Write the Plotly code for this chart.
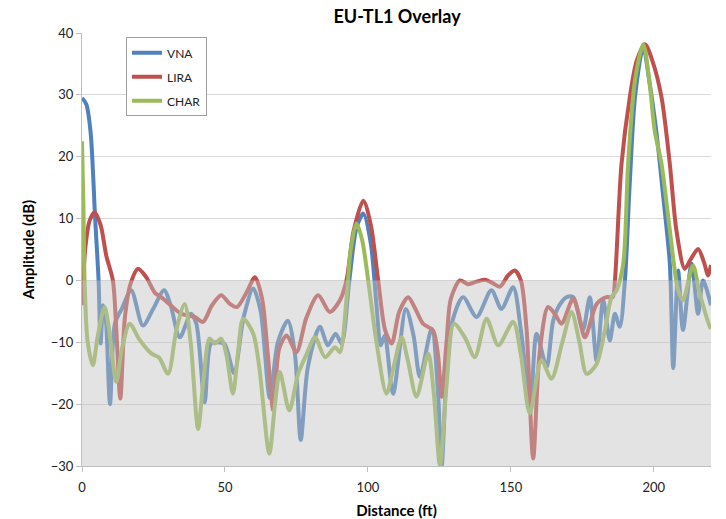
import plotly.graph_objects as go

# VNA trace (distance in ft, amplitude in dB)
vna_x = [0, 1.5, 3, 4.6, 5.8, 6.5, 7.4, 8.3, 9.8, 11.5, 14, 17.2, 21.3, 25, 28.7, 31, 34.2, 38.1, 40,
         42.9, 45.1, 47.5, 49.9, 53.2, 56.5, 59.9, 62.5, 65.7, 68.5, 72, 74.5, 76.5, 79, 83.2, 86,
         88.7, 90.8, 93.5, 96, 98.4, 101, 103, 104.5, 105.9, 108.8, 113.3, 116, 118.2, 122.3, 124.5,
         125.8, 127.5, 129.6, 133.3, 138, 143.2, 146.7, 150.8, 153.5, 156.8, 159, 162.5, 164.8, 167,
         169.5, 171.8, 175.2, 177.6, 180, 182.3, 184.6, 186.4, 188.1, 189.9, 191.5, 193.5, 196.3,
         198.5, 200.9, 203.3, 205.6, 206.8, 208.5, 210.2, 213.2, 215.5, 217.2, 220]
vna_y = [29.5, 28.5, 24, 10, 0, -10.2, -4, -6, -20, -7, -4.5, -1.6, -7.3, -4.5, -1.6, -4, -9.2, -5.4, -7,
         -19.7, -10.2, -10, -10.3, -15, -6, -1.3, -5, -19, -10, -6.5, -12, -25.8, -14, -7.5, -10.5,
         -8.6, -10.2, 0, 8.5, 10.8, 6, -4, -10.5, -8.9, -18.3, -4.6, -9, -15.6, -7.8, -18,
         -30, -15, -6.5, -2.7, -5.9, -1.6, -4.6, -1.1, -8, -20.5, -8.6, -14, -6.5, -4,
         -2.7, -2.7, -8, -2.7, -13, -3.2, -9.7, -5.4, -7.5, 0, 15, 30, 37.7,
         32, 24, 13.5, 2.7, -14.2, 1.6, -8, 2.7, -5.4, 0, -4]

# LIRA trace
lira_x = [0, 1.2, 2.7, 4.4, 6.5, 8.5, 10.8, 12, 13.4, 15, 17, 19.6, 22.5, 25.5, 27.7, 31, 34.7, 39.4,
          42.3, 45.5, 48.7, 51.7, 54.2, 57.5, 60.5, 63, 65, 66.9, 69, 71.6, 75, 78.5, 82.6, 86.7,
          90.2, 92.5, 95, 98.4, 101, 103.6, 106, 108.3, 111, 114.1, 116.5, 119.3, 122.8, 124.5,
          125.8, 127.5, 129, 132.2, 135, 138, 141, 143.5, 146.2, 149, 151.4, 153.5, 155.5, 157.8,
          160, 163, 165.5, 167.7, 171.8, 173.5, 175.9, 180, 183.4, 185.6, 186.4, 188.7, 191.6, 194,
          196.9, 199.5, 202.7, 205.6, 207.9, 210.8, 213, 215.5, 217.5, 219, 220]
lira_y = [-4, 5.4, 9.7, 11, 9, 4, 0, -8, -19.1, -6, -0.5, 1.9, 0.5, -2, -2.7, -4, -5.4, -5.9,
          -6.7, -4, -2.4, -3.8, -4.3, -2, 0.5, -3, -12, -21, -11, -8.9, -11.6, -6, -2.4, -5.1,
          -3.2, 0, 8, 12.9, 9, 0, -8, -10.2, -5, -2.7, -4.5, -7, -8.1, -12,
          -18.8, -10, -3, 0, -0.6, -0.2, 0.1, -0.4, -1, 0.8, 1.6, 0, -8, -28.8,
          -12, -4.3, -5.5, -7, -2.9, -5, -9.2, -3.8, -2.7, -2.7, 0, 18.8, 29.6, 35.5,
          38.2, 35.5, 29.6, 18.8, 8.1, 1.9, 3.5, 5.1, 3, 0.8, 2.5]

# CHAR trace
char_x = [0, 0.5, 0.9, 2, 3.8, 5.5, 7.9, 9.5, 12, 14, 16.7, 20, 24.2, 27, 30.1, 33, 35.9, 38, 40.6,
          42.5, 44.6, 46.5, 48.7, 50.5, 52.8, 54.5, 56.4, 59.9, 62, 65.5, 67.5, 69.2, 72.5, 75.6,
          78.5, 81.5, 85, 88.5, 90.2, 92.5, 94, 96, 98, 100.1, 103, 106.5, 109, 111.8, 114, 117,
          121.1, 123, 125.2, 127.5, 130.1, 133.9, 137.4, 141.5, 145.6, 150.8, 153.5, 156.6, 160.7,
          164.2, 168, 171.2, 174, 176.5, 180, 182.9, 185.2, 187, 189.3, 191, 193.4, 196.3, 198.5,
          200.3, 202.7, 205.6, 208.5, 210.2, 213.7, 216, 219.6, 220]
char_y = [22.5, 12, 0, -10, -13.7, -9, -4.3, -8, -16.4, -11, -7, -9.5, -11.8, -12.5, -15.1, -8, -3.8, -10, -24,
          -16, -9.4, -10.2, -9.4, -12, -18.3, -12, -6.2, -8.6, -14, -28, -20, -14.8, -21, -15.1,
          -12, -9.2, -12.4, -10.8, -11.6, -3, 5, 9.2, 6.5, 0, -10, -18.3, -14, -9.2, -13, -18.8,
          -11.8, -18, -29.9, -17, -7, -9.2, -12.4, -6.2, -10.5, -6.7, -12, -21.5, -12.9,
          -15.9, -10, -5.1, -10, -15.1, -13.5, -8, -2.7, -1.6, 2.7, 18.8, 32.3, 38.2, 32,
          24.2, 18.8, 8.1, -1.6, -3.2, 2.4, -2, -7.5, -7.8]

series = [
    ("VNA", vna_x, vna_y, "#4F81BD"),
    ("LIRA", lira_x, lira_y, "#C0504D"),
    ("CHAR", char_x, char_y, "#9BBB59"),
]

FONT = "Lato, 'Liberation Sans', sans-serif"

fig = go.Figure()
for name, xs, ys, color in series:
    fig.add_trace(go.Scatter(
        x=xs, y=ys, name=name, mode="lines", legendgroup=name,
        line=dict(color=color, width=4, shape="spline", smoothing=0.8),
    ))

# translucent grey band over the negative-amplitude region
fig.add_shape(type="rect", xref="x", yref="y", x0=0, x1=220, y0=-30, y1=0,
              fillcolor="rgba(192,192,192,0.45)", line=dict(width=0), layer="above")

fig.update_layout(
    width=726, height=519,
    margin=dict(l=82, r=15, t=33, b=53),
    paper_bgcolor="white", plot_bgcolor="white",
    font=dict(family=FONT, size=13, color="#222222"),
    title=dict(text="<b>EU-TL1 Overlay</b>", x=0.547, xanchor="center", y=0.967, yanchor="middle",
               font=dict(family=FONT, size=18, color="#000000")),
    legend=dict(x=0.07, y=0.99, xanchor="left", yanchor="top",
                bgcolor="white", bordercolor="#A0A0A0", borderwidth=1,
                font=dict(family=FONT, size=12, color="#222222"),
                tracegroupgap=5, itemwidth=30),
    showlegend=True,
)
fig.update_xaxes(
    range=[0, 220], tickvals=[0, 50, 100, 150, 200], showgrid=False, zeroline=False,
    showline=True, linecolor="#BFBFBF", linewidth=1, ticks="outside", ticklen=5, tickcolor="#BFBFBF",
    ticklabelstandoff=4, automargin=False,
    title=dict(text="<b>Distance (ft)</b>", font=dict(family=FONT, size=15, color="#000000"), standoff=14),
)
fig.update_yaxes(
    range=[-30, 40], dtick=10, showgrid=True, gridcolor="#D9D9D9", gridwidth=1, zeroline=False,
    showline=True, linecolor="#BFBFBF", linewidth=1, ticks="outside", ticklen=5, tickcolor="#BFBFBF",
    automargin=False,
    title=dict(text="<b>Amplitude (dB)</b>", font=dict(family=FONT, size=15, color="#000000"), standoff=12),
)

fig.write_html("out.html")
